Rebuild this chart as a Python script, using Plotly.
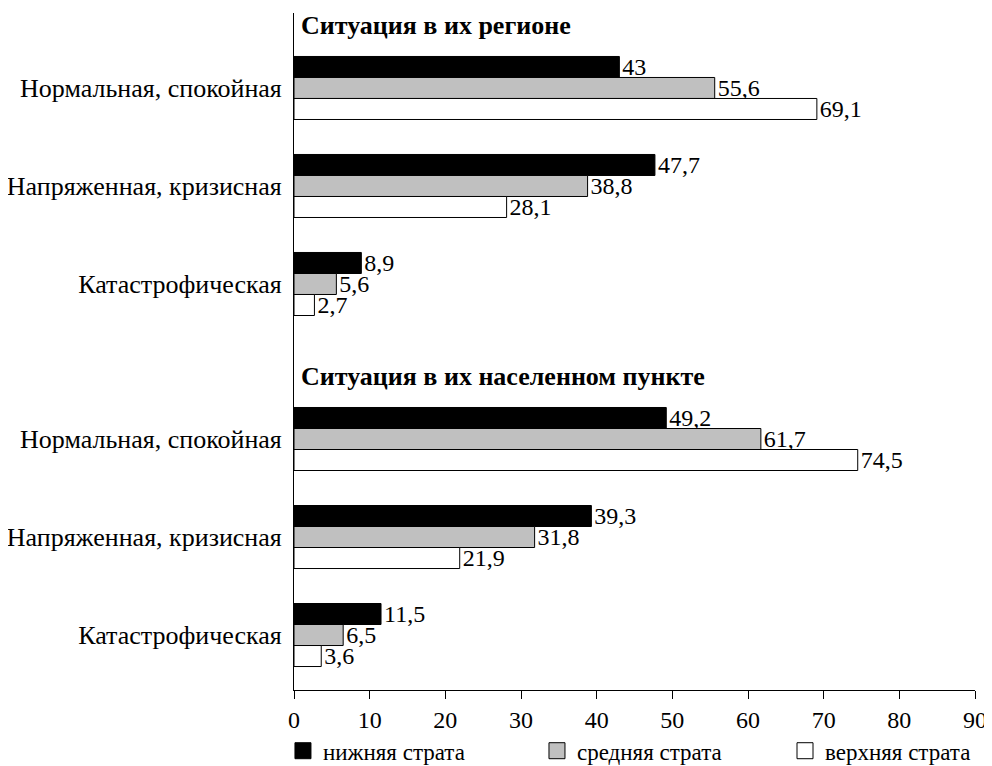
import plotly.graph_objects as go

groups = ["Ситуация в их регионе", "Ситуация в их населенном пункте"]
categories = ["Нормальная, спокойная", "Напряженная, кризисная", "Катастрофическая"]
series_names = ["нижняя страта", "средняя страта", "верхняя страта"]
lower = [43, 47.7, 8.9, 49.2, 39.3, 11.5]
middle = [55.6, 38.8, 5.6, 61.7, 31.8, 6.5]
upper = [69.1, 28.1, 2.7, 74.5, 21.9, 3.6]
x_ticks = [0, 10, 20, 30, 40, 50, 60, 70, 80, 90]

colors = ["#000000", "#c0c0c0", "#ffffff"]
FONT = "Liberation Serif"
GROUP_STEP = 3 + 57 / 98  # extra gap holds the section header

positions = []
labels = []
for g in range(len(groups)):
    for i, c in enumerate(categories):
        positions.append(g * GROUP_STEP + i)
        labels.append(c)

def fmt(v):
    return f"{v:g}".replace(".", ",")

legend_ids = ["legend", "legend2", "legend3"]
legend_x = [-0.0162, 0.3568, 0.7210]

fig = go.Figure()
for name, vals, col, lid in zip(series_names, [lower, middle, upper], colors, legend_ids):
    fig.add_trace(go.Bar(
        y=positions, x=vals, orientation="h", name=name,
        marker=dict(color=col, line=dict(color="#000000", width=1)),
        text=[fmt(v) for v in vals], textposition="outside", constraintext="none",
        textfont=dict(family=FONT, size=24, color="#000"),
        cliponaxis=False, showlegend=False,
    ))
    fig.add_trace(go.Scatter(
        x=[None], y=[None], mode="markers", name=name, legend=lid,
        marker=dict(symbol="square", size=20, color=col,
                    line=dict(color="#000", width=1)),
    ))

for g, title in enumerate(groups):
    fig.add_annotation(
        x=0, y=g * GROUP_STEP - 0.64, xref="x", yref="y",
        text=f"<b>{title}</b>", showarrow=False, xanchor="left", xshift=5,
        font=dict(family=FONT, size=26, color="#000"),
    )

leg_common = dict(orientation="h", y=-0.058, yanchor="top", bgcolor="rgba(0,0,0,0)",
                  font=dict(family=FONT, size=23, color="#000"), itemsizing="trace")
# page body has an 8px margin: figure is 8px smaller to fit the 992x766 window
fig.update_layout(
    width=984, height=758,
    margin=dict(l=286, r=17, t=5, b=76, autoexpand=False),
    paper_bgcolor="white", plot_bgcolor="white",
    barmode="group", bargap=0.357, bargroupgap=0,
    font=dict(family=FONT, size=24, color="#000"),
    legend=dict(x=legend_x[0], **leg_common),
    legend2=dict(x=legend_x[1], **leg_common),
    legend3=dict(x=legend_x[2], **leg_common),
)
fig.update_xaxes(range=[0, 90], tickvals=x_ticks, ticktext=[str(t) for t in x_ticks],
                 showline=True, linecolor="#000", linewidth=1, ticks="outside",
                 ticklen=8, tickcolor="#000", showgrid=False, zeroline=False,
                 tickfont=dict(family=FONT, size=24, color="#000"))
fig.update_yaxes(range=[GROUP_STEP + 2 + 0.561, -0.765], tickvals=positions, ticktext=labels,
                 showline=True, linecolor="#000", linewidth=1, ticks="",
                 ticklabelstandoff=6, showgrid=False, zeroline=False,
                 tickfont=dict(family=FONT, size=26, color="#000"))

fig.write_html("out.html")
